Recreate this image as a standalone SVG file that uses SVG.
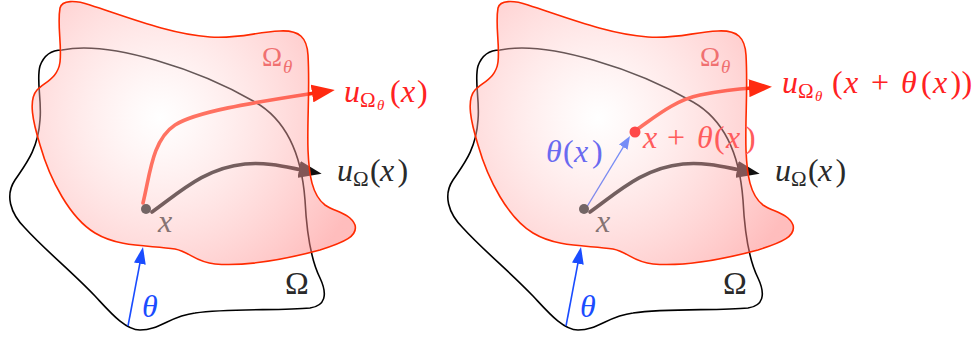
<svg xmlns="http://www.w3.org/2000/svg" width="975" height="339" viewBox="0 0 975 339">
<style>
.bd{fill:none;stroke:#000;stroke-width:1.6}
.dom{fill:url(#fillG);stroke:none}
.domline{fill:none;stroke:#ff2a00;stroke-width:1.6}
.ared{fill:none;stroke:#ff2a10;stroke-width:3.6;stroke-linecap:round;marker-end:url(#hRed)}
.ablk{fill:none;stroke:#111;stroke-width:3.6;stroke-linecap:round;marker-end:url(#hBlk)}
.ablu{fill:none;stroke:#1a4cff;stroke-width:1.6;marker-end:url(#hBlu)}
.ablu2{fill:none;stroke:#2255ff;stroke-width:1.3;marker-end:url(#hBlu2)}
.i{font-style:italic}
.cRed{fill:#ff2222}
.cBlk{fill:#2a2a2a}
.cPink{fill:#f07070}
.cGrey{fill:#857373}
.cBlue{fill:#1a4cff}
.cLBlue{fill:#6a6af0}
.cLRed{fill:#ff5c5c}
</style>
<defs>
<radialGradient id="fillG" gradientUnits="userSpaceOnUse" cx="160" cy="118" r="210">
<stop offset="0" stop-color="#ffffff" stop-opacity="0.35"/>
<stop offset="1" stop-color="#ff8080" stop-opacity="0.52"/>
</radialGradient>
<marker id="hRed" markerUnits="userSpaceOnUse" viewBox="0 0 23 18" markerWidth="23" markerHeight="18" refX="3" refY="9" orient="auto"><path d="M0,0 L23,9 L0,18 z" fill="#ff2a10"/></marker>
<marker id="hBlk" markerUnits="userSpaceOnUse" viewBox="0 0 23 17" markerWidth="23" markerHeight="17" refX="3" refY="8.5" orient="auto"><path d="M0,0 L23,8.5 L0,17 z" fill="#111"/></marker>
<marker id="hBlu" markerUnits="userSpaceOnUse" viewBox="0 0 17 12" markerWidth="17" markerHeight="12" refX="2" refY="6" orient="auto"><path d="M0,0 L17,6 L0,12 z" fill="#1a4cff"/></marker>
<marker id="hBlu2" markerUnits="userSpaceOnUse" viewBox="0 0 13 10" markerWidth="13" markerHeight="10" refX="2" refY="5" orient="auto"><path d="M0,0 L13,5 L0,10 z" fill="#2255ff"/></marker>
<path id="omegaPath" d="M62,50 C110,40 200,70 255,102 C290,122 302,160 305,200 C307,240 312,262 320,278 C328,295 325,306 310,308 C280,311 230,308 195,313 C170,316 160,330 140,330 C125,330 110,312 95,296 C70,270 45,250 25,228 C10,213 5,195 15,180 C25,165 38,150 40,120 C42,100 36,80 40,66 C44,55 52,50 62,50 Z"/>
<path id="omegaThetaPath" d="M60,8 C62,0 75,0 90,5 C130,18 170,34 210,37 C240,39 255,32 280,31 C300,30 307,38 308,55 C310,90 307,120 308,150 C309,175 312,195 325,205 C335,212 350,213 355,225 C358,236 345,242 320,250 C290,258 250,267 215,264 C195,262 190,252 175,249 C150,245 120,248 95,233 C70,218 50,180 40,145 C33,122 28,100 37,90 C45,82 58,78 60,62 C62,45 57,25 60,8 Z"/>
</defs>

<g id="omega">
<use href="#omegaPath" class="bd"/>
<use href="#omegaPath" class="bd" transform="translate(438,0)"/>
</g>

<g id="connectors">
<path id="theta-left" class="ablu" d="M128,326 L140.2,261.7"/>
<path id="theta-right" class="ablu" d="M566,326 L578.2,261.7"/>
<path id="u-omega-left" class="ablk" d="M152,212 C180,192 205,168 245,164 C268,162 286,167 302,170"/>
<path id="u-omega-right" class="ablk" d="M590,212 C618,192 643,168 683,164 C706,162 724,167 740,170"/>
<path id="u-omegatheta-left" class="ared" d="M143,203 C150,175 152,140 175,125 C195,112 250,103 315,93"/>
<path id="u-omegatheta-right" class="ared" d="M636,130 C655,117 675,100 700,95 C720,91 735,89 752,88"/>
<path id="theta-x" class="ablu2" d="M585,210 L624.3,145.4"/>
</g>

<g id="omega-theta">
<use href="#omegaThetaPath" class="dom"/>
<use href="#omegaThetaPath" class="dom" transform="translate(438,0)"/>
<use href="#omegaThetaPath" class="domline"/>
<use href="#omegaThetaPath" class="domline" transform="translate(438,0)"/>
</g>

<g font-family="'Liberation Serif', 'Times New Roman', serif" font-size="32">
<g id="point-x-left">
<circle cx="146" cy="209" r="5" fill="#736565"/>
<text class="i cGrey" x="158" y="232">x</text>
</g>
<g id="point-x-right">
<circle cx="584" cy="209" r="5" fill="#736565"/>
<text class="i cGrey" x="596" y="232">x</text>
</g>
<g id="point-xtheta">
<circle cx="635" cy="132" r="5.5" fill="#ff4848"/>
<text class="cLRed" y="148"><tspan class="i" x="643">x</tspan><tspan x="667">+</tspan><tspan class="i" x="697">θ</tspan><tspan x="714">(</tspan><tspan class="i" x="726">x</tspan><tspan x="745">)</tspan></text>
</g>

<g id="labels-left">
<text class="cPink" y="66"><tspan font-size="27" x="262">Ω</tspan><tspan class="i" font-size="19" x="283" y="73">θ</tspan></text>
<text class="cRed" y="102"><tspan class="i" x="344">u</tspan><tspan font-size="21" x="360" y="107">Ω</tspan><tspan class="i" font-size="15" x="377" y="110">θ</tspan><tspan x="390" y="102">(</tspan><tspan class="i" x="401">x</tspan><tspan x="417">)</tspan></text>
<text class="cBlk" y="181"><tspan class="i" x="337">u</tspan><tspan font-size="21" x="353" y="186">Ω</tspan><tspan x="370" y="181">(</tspan><tspan class="i" x="380">x</tspan><tspan x="397.5">)</tspan></text>
<text class="i cBlue" x="142" y="317">θ</text>
<text class="cBlk" font-size="32" x="285" y="294">Ω</text>
</g>

<g id="labels-right">
<text class="cPink" y="66"><tspan font-size="27" x="700">Ω</tspan><tspan class="i" font-size="19" x="721" y="73">θ</tspan></text>
<text class="cRed" y="93"><tspan class="i" x="782">u</tspan><tspan font-size="21" x="798" y="98">Ω</tspan><tspan class="i" font-size="15" x="815" y="101">θ</tspan><tspan x="832" y="93">(</tspan><tspan class="i" x="844">x</tspan><tspan x="871">+</tspan><tspan class="i" x="901">θ</tspan><tspan x="921">(</tspan><tspan class="i" x="933">x</tspan><tspan x="950.5">)</tspan><tspan x="961.5">)</tspan></text>
<text class="cBlk" y="181"><tspan class="i" x="775">u</tspan><tspan font-size="21" x="791" y="186">Ω</tspan><tspan x="808" y="181">(</tspan><tspan class="i" x="818">x</tspan><tspan x="835.5">)</tspan></text>
<text class="cLBlue" y="162"><tspan class="i" x="546">θ</tspan><tspan x="563">(</tspan><tspan class="i" x="574">x</tspan><tspan x="592">)</tspan></text>
<text class="i cBlue" x="580" y="317">θ</text>
<text class="cBlk" font-size="32" x="723" y="294">Ω</text>
</g>
</g>
</svg>
